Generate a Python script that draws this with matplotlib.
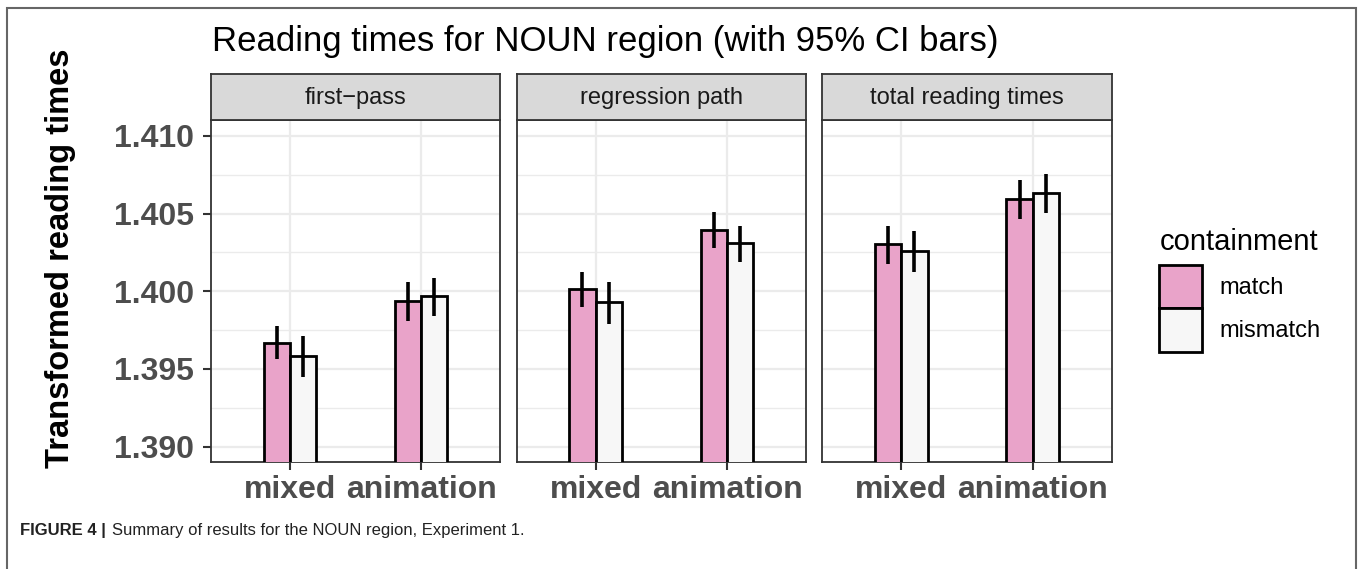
import numpy as np
import matplotlib
matplotlib.use('Agg')
import matplotlib.pyplot as plt
from matplotlib.patches import Patch, Rectangle

plt.rcParams['font.family'] = ['Liberation Sans', 'DejaVu Sans']

# reading-time means and 95% CI limits, per measure / condition / containment
panels = ['first\u2212pass', 'regression path', 'total reading times']
conditions = ['mixed', 'animation']
groups = ['match', 'mismatch']

match_mean = [[1.39669, 1.39939], [1.40013, 1.40394], [1.40302, 1.40592]]
match_lo = [[1.39563, 1.39811], [1.39897, 1.40277], [1.40176, 1.40463]]
match_hi = [[1.39777, 1.40058], [1.40122, 1.40508], [1.40420, 1.40716]]

mismatch_mean = [[1.39586, 1.39970], [1.39929, 1.40309], [1.40259, 1.40635]]
mismatch_lo = [[1.39450, 1.39843], [1.39790, 1.40189], [1.40122, 1.40506]]
mismatch_hi = [[1.39714, 1.40088], [1.40062, 1.40420], [1.40388, 1.40755]]

yticks = [1.390, 1.395, 1.400, 1.405, 1.410]
ytick_labels = ['1.390', '1.395', '1.400', '1.405', '1.410']

colors = {'match': '#E9A3C9', 'mismatch': '#F7F7F7'}

W, H = 1358, 569
fig = plt.figure(figsize=(W / 100, H / 100), dpi=100)

def px(x0, y0, x1, y1):
    # pixel box -> figure fraction rect
    return [x0 / W, 1 - y1 / H, (x1 - x0) / W, (y1 - y0) / H]

panel_x = [(211, 500), (516.7, 806), (822.3, 1111.7)]
bar_w = 0.2
xpos = np.arange(1, len(conditions) + 1)

for k, (x0, x1) in enumerate(panel_x):
    ax = fig.add_axes(px(x0, 120, x1, 462))
    for g, mean, lo, hi, off in [('match', match_mean, match_lo, match_hi, -bar_w / 2),
                                 ('mismatch', mismatch_mean, mismatch_lo, mismatch_hi, bar_w / 2)]:
        m = np.array(mean[k])
        ax.bar(xpos + off, m, width=bar_w, color=colors[g], edgecolor='black',
               linewidth=2.0, zorder=3)
        ax.vlines(xpos + off, lo[k], hi[k], color='black', linewidth=2.6, zorder=4)
    ax.set_xlim(0.4, 2.6)
    ax.set_ylim(1.38901, 1.41103)
    ax.set_yticks(yticks)
    ax.set_yticks([1.3925, 1.3975, 1.4025, 1.4075], minor=True)
    ax.set_xticks(xpos)
    ax.set_xticklabels(conditions)
    ax.grid(which='major', color='#EBEBEB', linewidth=1.6, zorder=0)
    ax.grid(which='minor', axis='y', color='#EBEBEB', linewidth=1.0, zorder=0)
    ax.set_axisbelow(True)
    for s in ax.spines.values():
        s.set_color('#333333')
        s.set_linewidth(1.3)
    ax.tick_params(axis='both', which='major', length=6, width=1.5, color='#333333',
                   labelcolor='#4D4D4D', labelsize=23)
    ax.tick_params(axis='y', which='minor', length=0)
    ax.tick_params(axis='x', pad=3)
    for lab in ax.get_xticklabels():
        lab.set_fontweight('bold')
    if k == 0:
        ax.set_yticklabels(ytick_labels, fontweight='bold')
        ax.tick_params(axis='y', pad=6)
    else:
        ax.tick_params(axis='y', labelleft=False, length=0)

    # facet strip
    sx = fig.add_axes(px(x0, 74, x1, 120))
    sx.set_facecolor('#D9D9D9')
    sx.set_xticks([])
    sx.set_yticks([])
    for s in sx.spines.values():
        s.set_color('#333333')
        s.set_linewidth(1.3)
    sx.text(0.5, 0.47, panels[k], ha='center', va='center', fontsize=17,
            color='#1A1A1A', transform=sx.transAxes)

fig.text(212 / W, 1 - 42 / H, 'Reading times for NOUN region (with 95% CI bars)',
         ha='left', va='center', fontsize=25, color='black')
fig.text(60 / W, 1 - 258 / H, 'Transformed reading times', rotation=90,
         ha='center', va='center', fontsize=23.5, fontweight='bold', color='black')

handles = [Patch(facecolor=colors[g], edgecolor='black', linewidth=2.0, label=g) for g in groups]
leg = fig.legend(handles=handles, loc='upper left', bbox_to_anchor=(1150 / W, 1 - 219 / H),
                 title='containment', fontsize=17, title_fontsize=21, frameon=False,
                 handlelength=1.8, handleheight=2.45, labelspacing=0.0, handletextpad=0.75,
                 borderaxespad=0)
leg._legend_box.align = 'left'
leg._legend_box.sep = 6

# caption
fig.text(20 / W, 1 - 531 / H, 'FIGURE 4 |', ha='left', va='center', fontsize=12,
         fontweight='bold', family=['Liberation Sans Narrow', 'Liberation Sans'], color='#222222')
fig.text(112 / W, 1 - 531 / H, 'Summary of results for the NOUN region, Experiment 1.',
         ha='left', va='center', fontsize=12,
         family=['Liberation Sans Narrow', 'Liberation Sans'], color='#222222')

# outer frame
fig.add_artist(Rectangle((7 / W, -0.01), (1356 - 7) / W, (H - 8) / H + 0.01,
                         transform=fig.transFigure, fill=False, edgecolor='#666666',
                         linewidth=1.5))

fig.savefig('out.png', dpi=100)
